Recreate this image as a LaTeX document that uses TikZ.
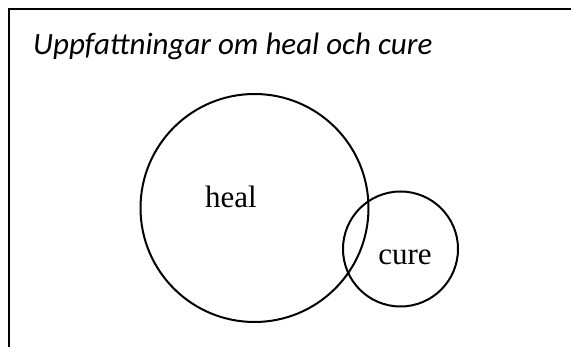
\documentclass[tikz,border=0pt]{standalone}
\usepackage{fontspec}
\setmainfont{Liberation Serif}
\newfontfamily\titlefont{Carlito}
\usepackage{tikz}
\usetikzlibrary{positioning}

\begin{document}
\begin{tikzpicture}[x=1pt,y=-1pt]
  \tikzstyle{setring}=[draw,circle,line width=2pt,inner sep=0pt]
  \tikzstyle{setname}=[inner sep=0pt,font=\fontsize{31}{34}\selectfont]
  \useasboundingbox (0,0) rectangle (571,347);
  \coordinate (frameb) at (9,347);
  \coordinate (framec) at (9,9);
  \coordinate (framer) at (571,9);
  \draw[line width=2pt] (frameb)--(framec)--(framer);
  \node[anchor=base west,inner sep=0pt,
    font=\titlefont\itshape\fontsize{31}{34}\selectfont] (title) at (33,55)
    {Uppfattningar om heal och cure};
  \node[setring,minimum size=228pt] (healset) at (254.5,208) {};
  \node[setring,minimum size=115pt] (cureset) at (400.5,249) {};
  \node[setname,anchor=base] (heallbl) at (231,208) {heal};
  \node[setname,anchor=base] (curelbl) at (405,265) {cure};
\end{tikzpicture}
\end{document}
